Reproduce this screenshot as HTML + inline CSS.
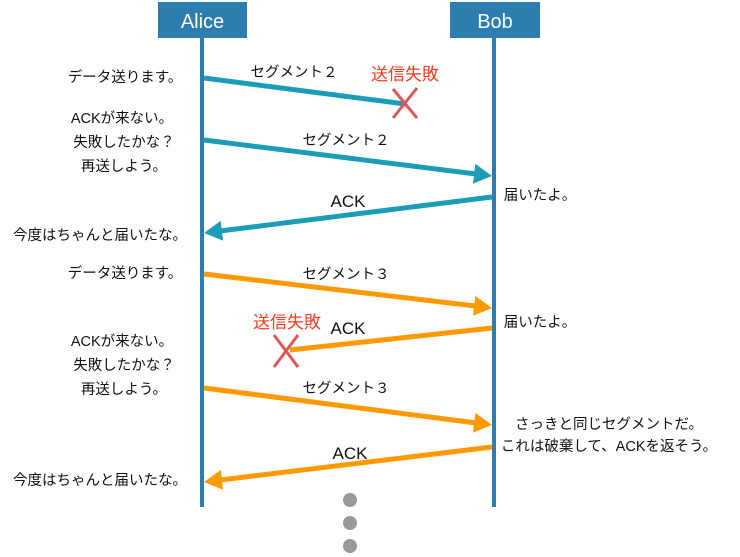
<!DOCTYPE html>
<html><head><meta charset="utf-8"><style>
html,body{margin:0;padding:0;background:#fff;}
svg{display:block;font-family:"Liberation Sans","Noto Sans CJK JP",sans-serif;}
</style></head><body>
<svg width="740" height="557" viewBox="0 0 740 557">
<defs>
<marker id="ht" markerWidth="18" markerHeight="20" refX="14" refY="10" orient="auto" markerUnits="userSpaceOnUse"><path d="M0,0 L18,10 L0,20 Z" fill="#1b9db8"/></marker>
<marker id="ho" markerWidth="18" markerHeight="20" refX="14" refY="10" orient="auto" markerUnits="userSpaceOnUse"><path d="M0,0 L18,10 L0,20 Z" fill="#ff9900"/></marker>
</defs>
<rect x="158" y="2" width="89" height="36" fill="#2e7db0"/>
<rect x="450" y="2" width="90" height="36" fill="#2e7db0"/>
<text x="202.5" y="28" fill="#fff" font-size="20" text-anchor="middle">Alice</text>
<text x="495" y="28" fill="#fff" font-size="20" text-anchor="middle">Bob</text>
<line x1="202" y1="38" x2="202" y2="507" stroke="#2e7db0" stroke-width="4"/>
<line x1="494" y1="38" x2="494" y2="507" stroke="#2e7db0" stroke-width="4"/>
<g stroke-width="5" fill="none">
<line x1="204" y1="78" x2="405" y2="104" stroke="#1b9db8"/>
<line x1="204" y1="140" x2="488" y2="175.5" stroke="#1b9db8" marker-end="url(#ht)"/>
<line x1="492" y1="197" x2="208" y2="232.5" stroke="#1b9db8" marker-end="url(#ht)"/>
<line x1="204" y1="274" x2="488" y2="307.5" stroke="#ff9900" marker-end="url(#ho)"/>
<line x1="492" y1="328" x2="290" y2="350" stroke="#ff9900"/>
<line x1="204" y1="388" x2="488" y2="424.5" stroke="#ff9900" marker-end="url(#ho)"/>
<line x1="492" y1="447" x2="208" y2="481.5" stroke="#ff9900" marker-end="url(#ho)"/>
</g>
<g stroke="#e05555" stroke-width="3">
<line x1="393" y1="89" x2="417" y2="118"/><line x1="417" y1="88" x2="393" y2="118"/>
<line x1="274" y1="335" x2="298" y2="367"/><line x1="298" y1="335" x2="274" y2="367"/>
</g>
<g font-size="14.5" fill="#111">
<text x="125" y="82" text-anchor="middle">データ送ります。</text>
<text x="122" y="123" text-anchor="middle">ACKが来ない。</text>
<text x="124" y="147" text-anchor="middle">失敗したかな？</text>
<text x="124" y="171" text-anchor="middle">再送しよう。</text>
<text x="100" y="240" text-anchor="middle">今度はちゃんと届いたな。</text>
<text x="125" y="278" text-anchor="middle">データ送ります。</text>
<text x="122" y="346" text-anchor="middle">ACKが来ない。</text>
<text x="124" y="370" text-anchor="middle">失敗したかな？</text>
<text x="124" y="394" text-anchor="middle">再送しよう。</text>
<text x="100" y="485" text-anchor="middle">今度はちゃんと届いたな。</text>
<text x="294" y="77" text-anchor="middle">セグメント２</text>
<text x="346" y="145" text-anchor="middle">セグメント２</text>
<text x="346" y="279" text-anchor="middle">セグメント３</text>
<text x="346" y="393" text-anchor="middle">セグメント３</text>
<text x="540" y="200" text-anchor="middle">届いたよ。</text>
<text x="540" y="327" text-anchor="middle">届いたよ。</text>
<text x="609" y="429" text-anchor="middle">さっきと同じセグメントだ。</text>
<text x="609" y="451" text-anchor="middle">これは破棄して、ACKを返そう。</text>
</g>
<g font-size="17" fill="#111">
<text x="348" y="207" text-anchor="middle">ACK</text>
<text x="348" y="334" text-anchor="middle">ACK</text>
<text x="350" y="459" text-anchor="middle">ACK</text>
</g>
<g font-size="17" fill="#ff3b1f">
<text x="405" y="80" text-anchor="middle">送信失敗</text>
<text x="287" y="328" text-anchor="middle">送信失敗</text>
</g>
<g fill="#999">
<circle cx="350" cy="500" r="7"/><circle cx="350" cy="523" r="7"/><circle cx="350" cy="546" r="7"/>
</g>
</svg>
</body></html>
